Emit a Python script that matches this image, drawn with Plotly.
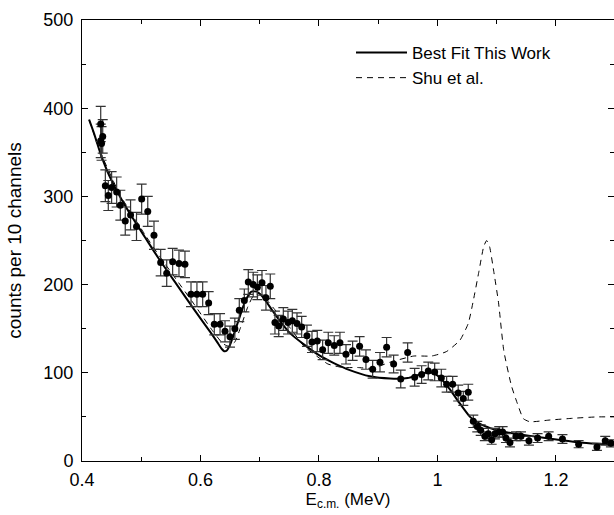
import plotly.graph_objects as go

# ---- measured data points ----
data_x = [0.4316, 0.4316, 0.4330, 0.4350, 0.4394, 0.4444, 0.4500, 0.4585, 0.4647, 0.4730,
          0.4820, 0.4920, 0.5007, 0.5110, 0.5215, 0.5328, 0.5430, 0.5530, 0.5637, 0.5738,
          0.5840, 0.5940, 0.6037, 0.6138, 0.6233, 0.6330, 0.6414, 0.6498, 0.6580, 0.6655,
          0.6740, 0.6807, 0.6890, 0.6960, 0.7038, 0.7105, 0.7178, 0.7257, 0.7320, 0.7398,
          0.7477, 0.7550, 0.7629, 0.7708, 0.7797, 0.7882, 0.7971, 0.8062, 0.8157, 0.8258,
          0.8354, 0.8456, 0.8568, 0.8686, 0.8793, 0.8906, 0.9030, 0.9142, 0.9260, 0.9380,
          0.9497, 0.9615, 0.9733, 0.9845, 0.9953, 1.0065, 1.0155, 1.0257, 1.0350, 1.0436,
          1.0520, 1.0605, 1.0672, 1.0730, 1.0800, 1.0858, 1.0915, 1.0970, 1.1043, 1.1100,
          1.1156, 1.1224, 1.1325, 1.1410, 1.1544, 1.1690, 1.1877, 1.2110, 1.2383, 1.2692,
          1.2832, 1.2928]
data_y = [382, 363, 360, 368, 312, 301, 310, 305, 290, 272,
          279, 266, 297, 283, 256, 225, 213, 226, 224, 223,
          189, 189, 189, 179, 155, 155, 147, 141, 150, 171,
          182, 203, 200, 197, 202, 185, 198, 157, 153, 161,
          157, 159, 156, 152, 142, 135, 136, 126, 134, 131,
          134, 121, 125, 130, 115, 104, 112, 129, 110, 93,
          123, 95, 98, 102, 101, 94, 87, 87, 77, 71,
          78, 45, 39, 35, 28, 31, 24, 31, 33, 33,
          26, 21, 28, 28, 23, 26, 28, 25, 19, 16,
          23, 20]
data_err = [20, 19, 19, 19, 18, 17, 18, 17, 17, 16,
            17, 16, 17, 17, 16, 15, 15, 15, 15, 15,
            14, 14, 14, 13, 12, 12, 12, 12, 12, 13,
            13, 14, 14, 14, 14, 14, 14, 13, 12, 13,
            13, 13, 12, 12, 12, 12, 12, 11, 12, 11,
            12, 11, 11, 11, 11, 10, 11, 11, 10, 10,
            11, 10, 10, 10, 10, 10, 9, 9, 9, 8,
            9, 7, 6, 6, 5, 6, 5, 6, 6, 6,
            5, 5, 5, 5, 5, 5, 5, 5, 4, 4,
            5, 4]

# ---- best fit (this work) ----
fit_x = [0.412, 0.420, 0.432, 0.445, 0.464, 0.485, 0.506, 0.530, 0.560, 0.590,
         0.620, 0.630, 0.636, 0.640, 0.644, 0.650, 0.658, 0.667, 0.676, 0.686,
         0.695, 0.705, 0.720, 0.735, 0.751, 0.775, 0.800, 0.825, 0.852, 0.886,
         0.920, 0.950, 0.965, 0.985, 0.995, 1.005, 1.020, 1.038, 1.055, 1.072,
         1.090, 1.105, 1.140, 1.173, 1.210, 1.240, 1.270, 1.298]
fit_y = [387, 372, 347, 325, 300, 276, 254, 229, 200, 171,
         143, 133, 127, 124.5, 125, 132, 147, 165, 182, 192,
         192, 186, 172, 158, 145, 132, 120, 111, 103, 96,
         93.5, 94, 97, 101, 99, 94, 82, 65, 50, 42,
         37, 34, 30, 27, 23.5, 21, 19.5, 18.5]

# ---- Shu et al. ----
shu_x = [0.412, 0.430, 0.464, 0.506, 0.530, 0.560, 0.590, 0.620, 0.638, 0.648,
         0.658, 0.668, 0.680, 0.690, 0.700, 0.710, 0.725, 0.750, 0.775, 0.800,
         0.815, 0.840, 0.865, 0.890, 0.920, 0.960, 0.990, 1.015, 1.038, 1.052,
         1.060, 1.070, 1.078, 1.083, 1.088, 1.095, 1.103, 1.112, 1.125, 1.135,
         1.145, 1.156, 1.190, 1.230, 1.270, 1.300]
shu_y = [387, 352, 302, 257, 233, 205, 177, 148, 133, 130,
         135, 152, 175, 188, 190, 184, 172, 152, 130, 117,
         110, 106, 106, 105, 112, 119, 119, 124, 137, 156,
         180, 215, 243, 250, 243, 215, 180, 125, 85, 65,
         48, 44.5, 46.5, 48.5, 50, 50]

x_tickvals = [0.4, 0.6, 0.8, 1.0, 1.2]
x_ticktext = ["0.4", "0.6", "0.8", "1", "1.2"]
y_tickvals = [0, 100, 200, 300, 400, 500]

FONT = "Liberation Sans, Arial, Helvetica, sans-serif"

fig = go.Figure()
fig.add_trace(go.Scatter(
    x=fit_x, y=fit_y, mode="lines", name="Best Fit This Work",
    line=dict(color="black", width=2, shape="spline", smoothing=0.5)))
fig.add_trace(go.Scatter(
    x=shu_x, y=shu_y, mode="lines", name="Shu et al.",
    line=dict(color="black", width=1, dash="6px,5px", shape="spline", smoothing=0.5)))
fig.add_trace(go.Scatter(
    x=data_x, y=data_y, mode="markers", showlegend=False,
    marker=dict(color="black", size=7),
    error_y=dict(type="data", array=data_err, visible=True,
                 color="#333333", thickness=1.2, width=5)))

axis_common = dict(
    showgrid=False, zeroline=False, showline=True, linecolor="black", linewidth=1,
    mirror="allticks", ticks="inside", ticklen=6, tickcolor="black", tickwidth=1,
    tickfont=dict(family=FONT, size=18, color="black"),
)

fig.update_xaxes(
    range=[0.4, 1.298], tickvals=x_tickvals, ticktext=x_ticktext,
    ticklabelstandoff=2,
    minor=dict(dtick=0.1, tick0=0.4, ticks="inside", ticklen=4, tickcolor="black"),
    title=dict(text="E<sub>c.m.</sub> (MeV)", font=dict(family=FONT, size=17, color="black"),
               standoff=2),
    **axis_common)
fig.update_yaxes(
    range=[0, 500], tickvals=y_tickvals,
    ticklabelstandoff=4,
    minor=dict(dtick=50, tick0=0, ticks="inside", ticklen=4, tickcolor="black"),
    title=dict(text="counts per 10 channels", font=dict(family=FONT, size=19, color="black"),
               standoff=16),
    **axis_common)

fig.update_layout(
    width=614, height=515,
    margin=dict(l=82, r=0, t=20, b=54),
    plot_bgcolor="white", paper_bgcolor="white",
    font=dict(family=FONT, color="black"),
    legend=dict(x=(351 - 82) / 532, y=1 - 15 / 441, xanchor="left", yanchor="top",
                font=dict(family=FONT, size=17, color="black"),
                bgcolor="rgba(0,0,0,0)", tracegroupgap=0, itemwidth=51),
)

fig.write_html("out.html")
